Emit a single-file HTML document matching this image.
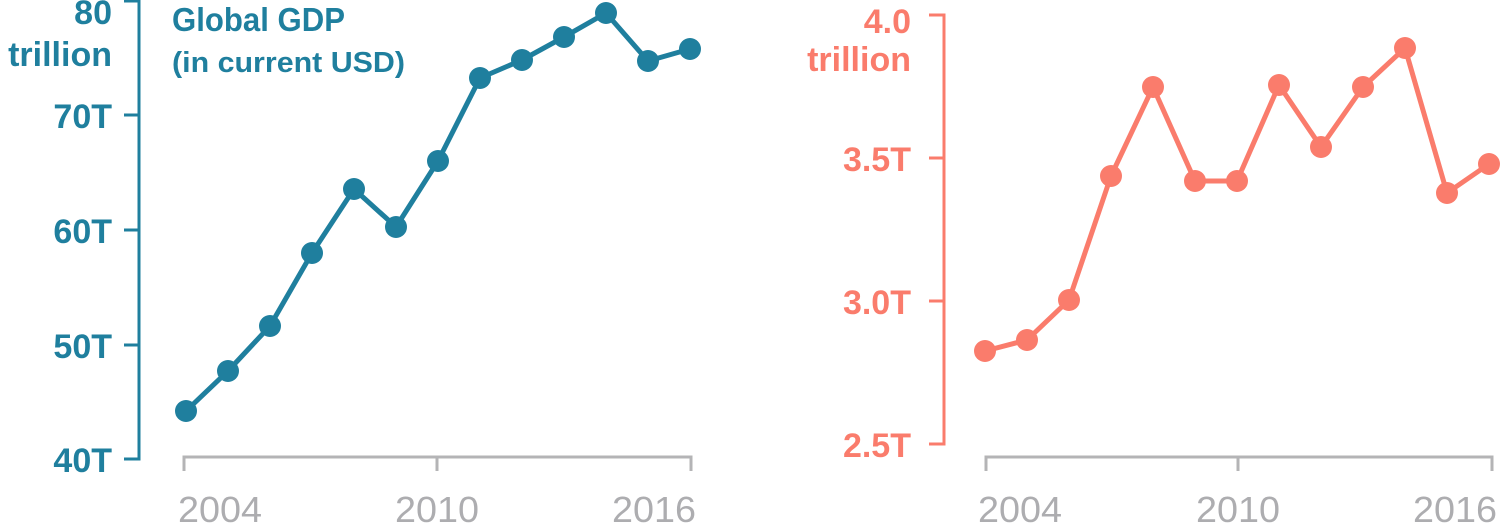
<!DOCTYPE html>
<html><head><meta charset="utf-8"><style>html,body{margin:0;padding:0;background:#fff}svg{display:block}</style></head>
<body>
<svg width="1500" height="527" xmlns="http://www.w3.org/2000/svg" font-family="Liberation Sans, sans-serif">
<g stroke="#1f7f9e" stroke-width="3" fill="none">
<path d="M124,1 H139 V459 H124 M124,115 H139 M124,230 H139 M124,345 H139"/>
</g>
<g fill="#1f7f9e" font-size="34" font-weight="bold" text-anchor="end">
<text x="112" y="24">80</text>
<text x="112" y="66">trillion</text>
<text x="112" y="128">70T</text>
<text x="112" y="243">60T</text>
<text x="112" y="358">50T</text>
<text x="112" y="472">40T</text>
</g>
<g fill="#1f7f9e" font-weight="bold">
<text x="172" y="31" font-size="33" textLength="173" lengthAdjust="spacingAndGlyphs">Global GDP</text>
<text x="172" y="72" font-size="29" textLength="233" lengthAdjust="spacingAndGlyphs">(in current USD)</text>
</g>
<g stroke="#b4b4b6" stroke-width="3" fill="none">
<path d="M184,471 V457 H691 V471 M437,457 V471"/>
<path d="M986,471 V457 H1492 V471 M1238,457 V471"/>
</g>
<g fill="#adadb0" font-size="36" text-anchor="middle">
<text x="220" y="522" textLength="84" lengthAdjust="spacingAndGlyphs">2004</text><text x="437" y="522" textLength="84" lengthAdjust="spacingAndGlyphs">2010</text><text x="654" y="522" textLength="84" lengthAdjust="spacingAndGlyphs">2016</text>
<text x="1020" y="522" textLength="84" lengthAdjust="spacingAndGlyphs">2004</text><text x="1238" y="522" textLength="84" lengthAdjust="spacingAndGlyphs">2010</text><text x="1455" y="522" textLength="84" lengthAdjust="spacingAndGlyphs">2016</text>
</g>
<polyline fill="none" stroke="#1f7f9e" stroke-width="5" stroke-linejoin="round" points="186,411 228,371 270,326 312,253 354,189 396,227 438,161 480,78 522,60 564,37 606,13 648,61 690,49"/>
<g fill="#1f7f9e">
<circle cx="186" cy="411" r="11"/><circle cx="228" cy="371" r="11"/><circle cx="270" cy="326" r="11"/><circle cx="312" cy="253" r="11"/><circle cx="354" cy="189" r="11"/><circle cx="396" cy="227" r="11"/><circle cx="438" cy="161" r="11"/><circle cx="480" cy="78" r="11"/><circle cx="522" cy="60" r="11"/><circle cx="564" cy="37" r="11"/><circle cx="606" cy="13" r="11"/><circle cx="648" cy="61" r="11"/><circle cx="690" cy="49" r="11"/>
</g>
<g stroke="#fa7c6c" stroke-width="3" fill="none">
<path d="M929,15 H944 V444 H929 M929,158 H944 M929,301 H944"/>
</g>
<g fill="#fa7c6c" font-size="34" font-weight="bold" text-anchor="end">
<text x="911" y="33">4.0</text>
<text x="911" y="71">trillion</text>
<text x="911" y="171">3.5T</text>
<text x="911" y="314">3.0T</text>
<text x="911" y="457">2.5T</text>
</g>
<polyline fill="none" stroke="#fa7c6c" stroke-width="5" stroke-linejoin="round" points="985,351 1027,340 1069,300 1111,176 1153,87 1195,181 1237,181 1279,85 1321,147 1363,87 1405,48 1447,193 1489,164"/>
<g fill="#fa7c6c">
<circle cx="985" cy="351" r="11"/><circle cx="1027" cy="340" r="11"/><circle cx="1069" cy="300" r="11"/><circle cx="1111" cy="176" r="11"/><circle cx="1153" cy="87" r="11"/><circle cx="1195" cy="181" r="11"/><circle cx="1237" cy="181" r="11"/><circle cx="1279" cy="85" r="11"/><circle cx="1321" cy="147" r="11"/><circle cx="1363" cy="87" r="11"/><circle cx="1405" cy="48" r="11"/><circle cx="1447" cy="193" r="11"/><circle cx="1489" cy="164" r="11"/>
</g>
</svg>
</body></html>
